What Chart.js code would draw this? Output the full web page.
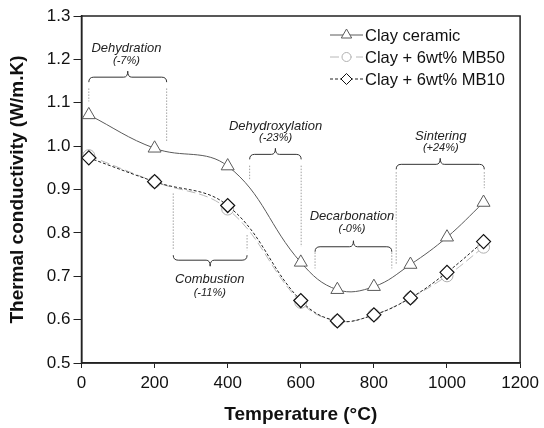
<!DOCTYPE html>
<html>
<head>
<meta charset="utf-8">
<script src="https://cdn.jsdelivr.net/npm/chart.js@4/dist/chart.umd.min.js"></script>
<style>
  html, body { margin: 0; padding: 0; background: #fff; }
</style>
</head>
<body>
<canvas id="chart" width="544" height="428"></canvas>
<script>
// temperatures (°C) and thermal conductivity (W/m.K)
var temps = [20, 200, 400, 600, 700, 800, 900, 1000, 1100];
var clayCeramic = [1.072, 0.995, 0.954, 0.732, 0.669, 0.676, 0.727, 0.790, 0.870];
var clayMB50 = [0.978, 0.918, 0.855, 0.640, 0.597, 0.611, 0.650, 0.701, 0.767];
var clayMB10 = [0.973, 0.918, 0.863, 0.644, 0.597, 0.611, 0.650, 0.709, 0.780];
var seriesNames = ['Clay ceramic', 'Clay + 6wt% MB50', 'Clay + 6wt% MB10'];

var xMin = 0, xMax = 1200, xStep = 200;
var yMin = 0.5, yMax = 1.3, yStep = 0.1;

// process stages and their change in conductivity
var phaseNames = ['Dehydration', 'Combustion', 'Dehydroxylation', 'Decarbonation', 'Sintering'];
var phaseChange = ['(-7%)', '(-11%)', '(-23%)', '(-0%)', '(+24%)'];

// where the braces sit (data units), tip: -1 = points up, 1 = points down
var phaseLayout = [
  { x0: 20, x1: 233, braceY: 1.159, tip: -1, textY: 1.226, pctY: 1.196, tx: 123, left: [1.133, 1.103], right: [1.133, 1.009] },
  { x0: 251, x1: 453, braceY: 0.737, tip: 1, textY: 0.693, pctY: 0.662, tx: 351, left: [0.891, 0.760], right: [0.795, 0.760] },
  { x0: 460, x1: 601, braceY: 0.981, tip: -1, textY: 1.046, pctY: 1.018, tx: 531, left: [0.955, 0.921], right: [0.955, 0.768] },
  { x0: 639, x1: 849, braceY: 0.768, tip: -1, textY: 0.839, pctY: 0.810, tx: 740, left: [0.755, 0.718], right: [0.755, 0.718] },
  { x0: 861, x1: 1102, braceY: 0.958, tip: -1, textY: 1.023, pctY: 0.996, tx: 983, left: [0.940, 0.726], right: [0.940, 0.903] }
];

function pts(ys) {
  return temps.map(function (t, i) { return { x: t, y: ys[i] }; });
}

var FONT = "'Liberation Sans', Arial, sans-serif";

function brace(ctx, x0, x1, y, dir) {
  var xm = (x0 + x1) / 2, e = 5, s = 6;
  ctx.beginPath();
  ctx.moveTo(x0, y - dir * e);
  ctx.quadraticCurveTo(x0, y, x0 + e, y);
  ctx.lineTo(xm - 4, y);
  ctx.quadraticCurveTo(xm, y, xm, y + dir * s);
  ctx.quadraticCurveTo(xm, y, xm + 4, y);
  ctx.lineTo(x1 - e, y);
  ctx.quadraticCurveTo(x1, y, x1, y - dir * e);
  ctx.stroke();
}

var phasePlugin = {
  id: 'phases',
  beforeDatasetsDraw: function (chart) {
    var ctx = chart.ctx, xs = chart.scales.x, ys = chart.scales.y;
    ctx.save();
    phaseLayout.forEach(function (p, i) {
      var px0 = xs.getPixelForValue(p.x0), px1 = xs.getPixelForValue(p.x1);
      // dotted guides
      ctx.strokeStyle = '#a0a0a0';
      ctx.lineWidth = 1;
      ctx.setLineDash([1.5, 1.5]);
      ctx.beginPath();
      ctx.moveTo(px0, ys.getPixelForValue(p.left[0]));
      ctx.lineTo(px0, ys.getPixelForValue(p.left[1]));
      ctx.moveTo(px1, ys.getPixelForValue(p.right[0]));
      ctx.lineTo(px1, ys.getPixelForValue(p.right[1]));
      ctx.stroke();
      ctx.setLineDash([]);
      ctx.strokeStyle = '#333';
      brace(ctx, px0, px1, ys.getPixelForValue(p.braceY), p.tip);
      ctx.fillStyle = '#222';
      ctx.textAlign = 'center';
      ctx.textBaseline = 'middle';
      ctx.font = 'italic 13px ' + FONT;
      ctx.fillText(phaseNames[i], xs.getPixelForValue(p.tx), ys.getPixelForValue(p.textY));
      ctx.font = 'italic 11px ' + FONT;
      ctx.fillText(phaseChange[i], xs.getPixelForValue(p.tx), ys.getPixelForValue(p.pctY));
    });
    ctx.restore();
  },
  afterDraw: function (chart) {
    var ctx = chart.ctx, a = chart.chartArea;
    ctx.save();
    // frame
    ctx.strokeStyle = '#222';
    ctx.lineWidth = 1.5;
    ctx.strokeRect(a.left, a.top, a.right - a.left, a.bottom - a.top);
    // legend
    var lx0 = 330, lx1 = 363, rows = [35, 57, 79];
    chart.data.datasets.forEach(function (ds, i) {
      var y = rows[i];
      ctx.strokeStyle = ds.borderColor;
      ctx.lineWidth = ds.borderWidth;
      ctx.setLineDash(ds.borderDash || []);
      ctx.beginPath();
      ctx.moveTo(lx0, y);
      ctx.lineTo(lx1, y);
      ctx.stroke();
      ctx.setLineDash([]);
      ctx.fillStyle = '#fff';
      ctx.strokeStyle = ds.pointBorderColor;
      Chart.helpers.drawPoint(ctx, { pointStyle: ds.pointStyle, radius: ds.pointRadius - 1.5, borderWidth: 1, rotation: 0 }, (lx0 + lx1) / 2, y);
      ctx.fillStyle = '#111';
      ctx.font = '16.5px ' + FONT;
      ctx.textAlign = 'left';
      ctx.textBaseline = 'middle';
      ctx.fillText(seriesNames[i], lx1 + 2, y + 1);
    });
    ctx.restore();
  }
};

new Chart(document.getElementById('chart'), {
  type: 'line',
  data: {
    datasets: [
      {
        label: seriesNames[0], data: pts(clayCeramic), order: 0,
        borderColor: '#5a5a5a', borderWidth: 1, tension: 0.4,
        pointStyle: 'triangle', pointRadius: 7.5, pointBorderColor: '#5a5a5a',
        pointBackgroundColor: '#fff', pointBorderWidth: 1
      },
      {
        label: seriesNames[1], data: pts(clayMB50), order: 2,
        borderColor: '#b8b8b8', borderWidth: 1, borderDash: [9, 4], tension: 0.4,
        pointStyle: 'circle', pointRadius: 6, pointBorderColor: '#b0b0b0',
        pointBackgroundColor: '#fff', pointBorderWidth: 1
      },
      {
        label: seriesNames[2], data: pts(clayMB10), order: 1,
        borderColor: '#222', borderWidth: 1, borderDash: [3, 2], tension: 0.4,
        pointStyle: 'rectRot', pointRadius: 7, pointBorderColor: '#111',
        pointBackgroundColor: '#fff', pointBorderWidth: 1.2
      }
    ]
  },
  options: {
    responsive: false,
    devicePixelRatio: 1,
    animation: false,
    layout: { padding: { top: 16, right: 23, left: 0, bottom: 0 } },
    plugins: { legend: { display: false }, tooltip: { enabled: false } },
    scales: {
      x: {
        type: 'linear', min: xMin, max: xMax,
        afterFit: function (s) { s.height = 65; },
        grid: { display: true, drawOnChartArea: false, drawTicks: true, tickLength: 5, color: '#222' },
        border: { color: '#222', width: 1.5 },
        ticks: { stepSize: xStep, color: '#111', padding: 5, font: { family: FONT, size: 17 },
                 callback: function (v) { return String(v); } },
        title: { display: true, text: 'Temperature (°C)', color: '#111', padding: { top: 0, bottom: 2 },
                 font: { family: FONT, size: 19, weight: 'bold' } }
      },
      y: {
        min: yMin, max: yMax,
        afterFit: function (s) { s.width = 81.5; },
        grid: { display: true, drawOnChartArea: false, drawTicks: true, tickLength: 8, color: '#222' },
        border: { color: '#222', width: 1.5 },
        ticks: { stepSize: yStep, color: '#111', padding: 3, font: { family: FONT, size: 17 },
                 callback: function (v) { return v.toFixed(1); } },
        title: { display: true, text: 'Thermal conductivity (W/m.K)', color: '#111', padding: { top: 6, bottom: 0 },
                 font: { family: FONT, size: 19, weight: 'bold' } }
      }
    }
  },
  plugins: [phasePlugin]
});
</script>
</body>
</html>
